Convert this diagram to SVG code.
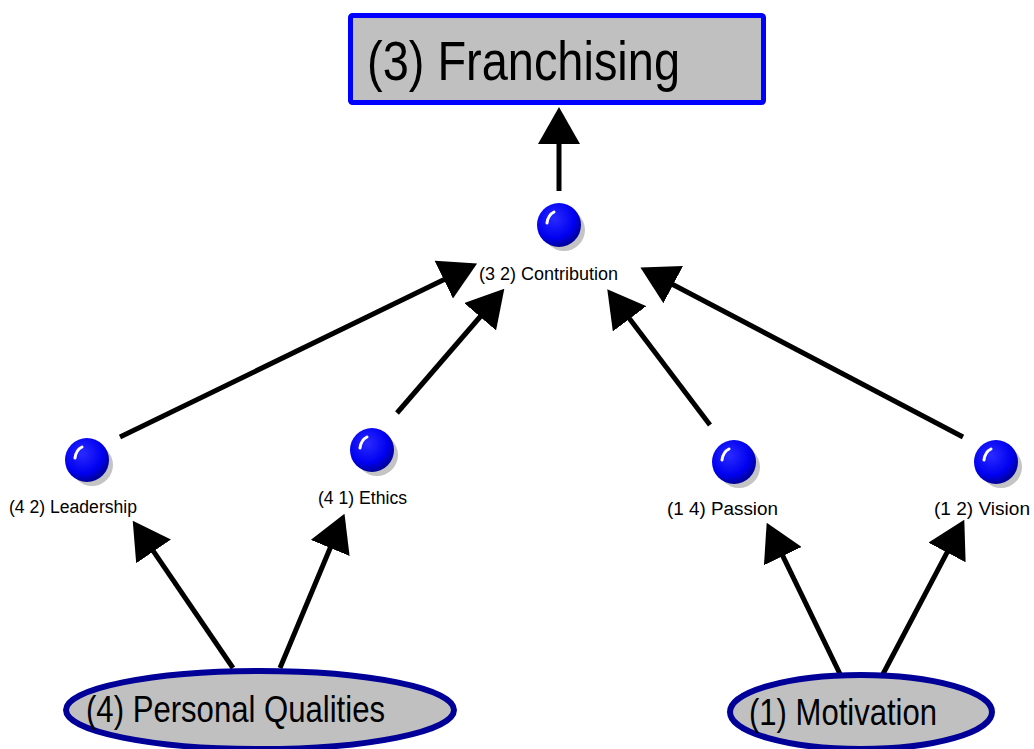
<svg xmlns="http://www.w3.org/2000/svg" width="1034" height="749" viewBox="0 0 1034 749">
  <defs>
    <style>
      .conn { stroke: #000; stroke-width: 5; fill: none; marker-end: url(#head); }
      .big { font-family: "Liberation Sans", Arial, sans-serif; fill: #000; }
      .small { font-family: "Liberation Sans", Arial, sans-serif; font-size: 18px; fill: #000; }
      .oval { fill: #c0c0c0; stroke: #000099; stroke-width: 6; }
      .shadow { fill: #c4c4c4; }
      .hl { fill: none; stroke: #fff; stroke-width: 3; stroke-linecap: round; }
    </style>
    <marker id="head" viewBox="0 0 37 42" refX="1" refY="21" markerWidth="37" markerHeight="42" markerUnits="userSpaceOnUse" orient="auto">
      <path d="M0,0 L37,21 L0,42 Z" fill="#000"/>
    </marker>
    <radialGradient id="ball" cx="0.4" cy="0.35" r="0.65">
      <stop offset="0" stop-color="#2a2aff"/>
      <stop offset="0.7" stop-color="#0000f0"/>
      <stop offset="1" stop-color="#00009a"/>
    </radialGradient>
    <g id="sphere">
      <circle cx="5" cy="5" r="21" class="shadow"/>
      <circle cx="0" cy="0" r="22" fill="url(#ball)"/>
      <path d="M-12,-2 Q-11,-10 -5,-13" class="hl"/>
    </g>
  </defs>

  <!-- connectors -->
  <g id="connectors">
    <line class="conn" x1="559" y1="191" x2="559" y2="143"/>
    <line class="conn" x1="120" y1="437" x2="444.7" y2="279.2"/>
    <line class="conn" x1="397" y1="413" x2="480.8" y2="316"/>
    <line class="conn" x1="710" y1="425" x2="629" y2="318"/>
    <line class="conn" x1="963" y1="437" x2="672.3" y2="284.2"/>
    <line class="conn" x1="233" y1="668" x2="153" y2="550.6"/>
    <line class="conn" x1="280" y1="668" x2="330.6" y2="547"/>
    <line class="conn" x1="840" y1="674" x2="782.4" y2="555.2"/>
    <line class="conn" x1="883" y1="674" x2="947.5" y2="551.6"/>
  </g>

  <!-- goal box -->
  <g id="franchising">
    <rect x="350.5" y="15.5" width="413" height="87" rx="2" fill="#c0c0c0" stroke="#0000ff" stroke-width="5"/>
    <text class="big" x="367" y="80" font-size="55" textLength="313" lengthAdjust="spacingAndGlyphs">(3) Franchising</text>
  </g>

  <!-- intermediate nodes -->
  <g id="contribution">
    <use href="#sphere" x="559" y="225"/>
    <text class="small" x="479" y="280" textLength="139" lengthAdjust="spacingAndGlyphs">(3 2) Contribution</text>
  </g>
  <g id="leadership">
    <use href="#sphere" x="87" y="460"/>
    <text class="small" x="9" y="513" textLength="128" lengthAdjust="spacingAndGlyphs">(4 2) Leadership</text>
  </g>
  <g id="ethics">
    <use href="#sphere" x="372" y="450"/>
    <text class="small" x="318" y="504" textLength="89" lengthAdjust="spacingAndGlyphs">(4 1) Ethics</text>
  </g>
  <g id="passion">
    <use href="#sphere" x="734" y="462"/>
    <text class="small" x="667" y="515" textLength="111" lengthAdjust="spacingAndGlyphs">(1 4) Passion</text>
  </g>
  <g id="vision">
    <use href="#sphere" x="996" y="462"/>
    <text class="small" x="934" y="515" textLength="96" lengthAdjust="spacingAndGlyphs">(1 2) Vision</text>
  </g>

  <!-- source nodes -->
  <g id="personal-qualities">
    <ellipse class="oval" cx="260" cy="710" rx="194" ry="39"/>
    <text class="big" x="86" y="722" font-size="37" textLength="299" lengthAdjust="spacingAndGlyphs">(4) Personal Qualities</text>
  </g>
  <g id="motivation">
    <ellipse class="oval" cx="861" cy="712" rx="131" ry="37"/>
    <text class="big" x="749" y="725" font-size="37" textLength="188" lengthAdjust="spacingAndGlyphs">(1) Motivation</text>
  </g>
</svg>
